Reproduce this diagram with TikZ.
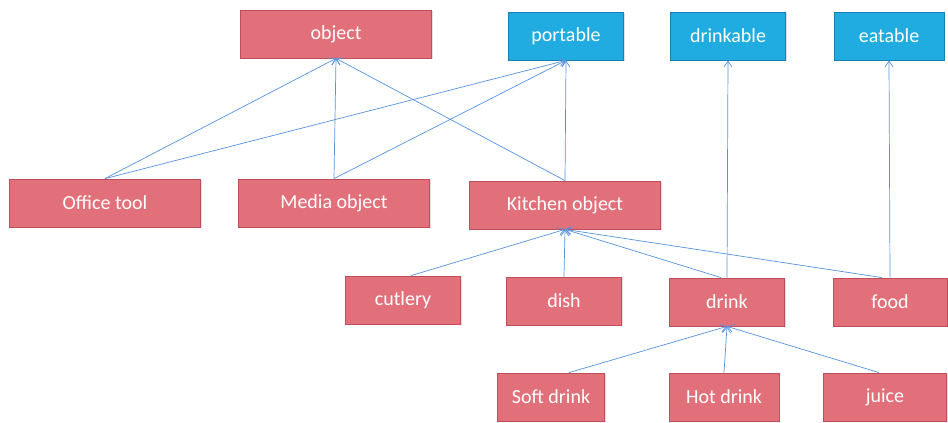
\documentclass[tikz,border=0pt]{standalone}
\usepackage{fontspec}
\setmainfont{Carlito}
\usetikzlibrary{arrows.meta,shadows}
\definecolor{pinkfill}{RGB}{226,112,122}
\definecolor{pinkedge}{RGB}{192,78,90}
\definecolor{bluefill}{RGB}{32,172,224}
\definecolor{blueedge}{RGB}{22,128,180}
\definecolor{linkblue}{RGB}{84,146,220}
\begin{document}
\begin{tikzpicture}[x=1pt,y=-1pt,
  box/.style={rectangle, minimum height=48pt, text=white,
    font=\fontsize{20}{22}\selectfont, line width=0.8pt, inner sep=2pt,
    drop shadow={shadow xshift=1.2pt, shadow yshift=-1.2pt, opacity=0.25}},
  pinkbox/.style={box, fill=pinkfill, draw=pinkedge},
  bluebox/.style={box, fill=bluefill, draw=blueedge, minimum width=115pt},
  link/.style={draw=linkblue, line width=0.7pt, -{Straight Barb[length=6pt,width=8pt]}}]
\useasboundingbox (0,0) rectangle (948,423);
% top concepts
\node[pinkbox, minimum width=191pt] (object) at (336,34) {object};
\node[bluebox] (portable) at (566,36) {portable};
\node[bluebox] (drinkable) at (728,36) {drinkable};
\node[bluebox, minimum width=110pt] (eatable) at (889,36) {eatable};
% second level
\node[pinkbox, minimum width=191pt] (office) at (105,203) {Office tool};
\node[pinkbox, minimum width=191pt] (media) at (334,203) {Media object};
\node[pinkbox, minimum width=191pt] (kitchen) at (565,205) {Kitchen object};
% kitchen items
\node[pinkbox, minimum width=115pt] (cutlery) at (403,300) {cutlery};
\node[pinkbox, minimum width=115pt] (dish) at (564,301) {dish};
\node[pinkbox, minimum width=115pt] (drink) at (727,302) {drink};
\node[pinkbox, minimum width=114pt] (food) at (890,302) {food};
% drinks
\node[pinkbox, minimum width=107pt] (soft) at (551,397) {Soft drink};
\node[pinkbox, minimum width=110pt] (hot) at (724,397) {Hot drink};
\node[pinkbox, minimum width=123pt] (juice) at (885,397) {juice};
% links to the parents
\draw[link] (office.north) -- (object.south);
\draw[link] (media.north) -- (object.south);
\draw[link] (kitchen.north) -- (object.south);
\draw[link] (office.north) -- (portable.south);
\draw[link] (media.north) -- (portable.south);
\draw[link] (kitchen.north) -- (portable.south);
\draw[link] (drink.north) -- (drinkable.south);
\draw[link] (food.north) -- (eatable.south);
\draw[link] ([xshift=8pt]cutlery.north) -- (kitchen.south);
\draw[link] (dish.north) -- (kitchen.south);
\draw[link] ([xshift=-6pt]drink.north) -- (kitchen.south);
\draw[link] ([xshift=-8pt]food.north) -- (kitchen.south);
\draw[link] ([xshift=18pt]soft.north) -- (drink.south);
\draw[link] (hot.north) -- (drink.south);
\draw[link] ([xshift=-6pt]juice.north) -- (drink.south);
\end{tikzpicture}
\end{document}
